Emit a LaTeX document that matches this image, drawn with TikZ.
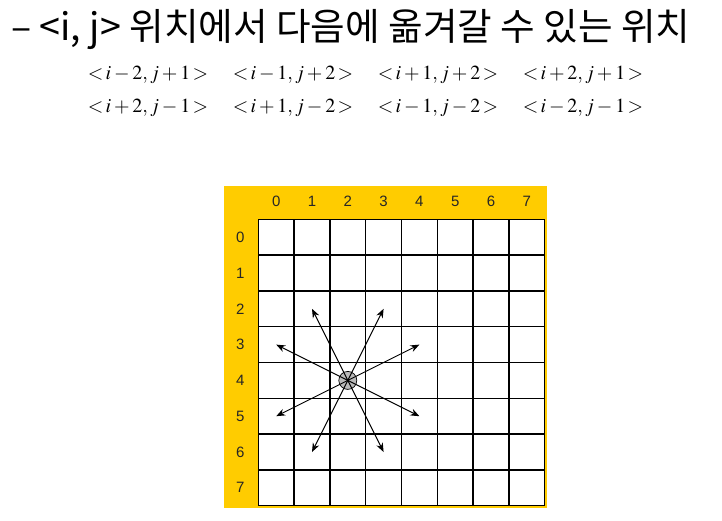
\documentclass[tikz,border=0pt]{standalone}
\usepackage{mathptmx}
\usepackage{fontspec}
\setsansfont{Liberation Sans}
\newfontfamily\kofont{Noto Sans CJK KR}
\usetikzlibrary{arrows.meta}
\definecolor{boardyellow}{HTML}{FFCC00}
\begin{document}
\begin{tikzpicture}[x=1pt,y=-1pt,
    movetext/.style={font=\fontsize{20}{20}\selectfont, inner sep=0pt},
    idx/.style={font=\sffamily\fontsize{15}{15}\selectfont, text=black!85, inner sep=0pt},
    knight/.style={-{Stealth[length=9pt,width=7pt]}, line width=1pt}]
  \useasboundingbox (0,0) rectangle (722,520);

  % title and the eight moves
  \node[anchor=base west, inner sep=0pt, font=\kofont\fontsize{37.6}{38}\selectfont]
    (title) at (11,40) {– <i, j> 위치에서 다음에 옮겨갈 수 있는 위치};
  \foreach \t [count=\k] in {{i-2,j+1},{i-1,j+2},{i+1,j+2},{i+2,j+1}}
    \node[movetext] (up\k) at (3+145*\k,75) {$<\!\t\!>$};
  \foreach \t [count=\k] in {{i+2,j-1},{i+1,j-2},{i-1,j-2},{i-2,j-1}}
    \node[movetext] (dn\k) at (3+145*\k,108) {$<\!\t\!>$};

  % the board
  \fill[boardyellow] (224,186) rectangle (547,507.5);
  \begin{scope}[shift={(258.3,219.3)}, x=35.8pt, y=-35.8pt]
    \fill[white] (0,0) rectangle (8,8);
    \foreach \k in {0,...,8} {
      \draw[line width=1.4pt] (\k,0) -- (\k,8);
      \draw[line width=1.4pt] (0,\k) -- (8,\k);
    }
    \foreach \k in {0,...,7} {
      \node[idx] (col\k) at (\k+0.5,-0.5) {\k};
      \node[idx] (row\k) at (-0.5,\k+0.5) {\k};
    }
    \node[circle, draw, line width=0.7pt, fill=gray!55, minimum size=18pt,
      inner sep=0pt] (here) at (2.5,4.5) {};
    \fill (here.center) circle (1.3pt);
    \foreach \dr/\dc [count=\k] in {-2/1,-1/2,1/2,2/1,2/-1,1/-2,-1/-2,-2/-1} {
      \coordinate (to\k) at (2.5+\dc,4.5+\dr);
      \draw[knight] (here.center) -- (to\k);
    }
  \end{scope}
\end{tikzpicture}
\end{document}
